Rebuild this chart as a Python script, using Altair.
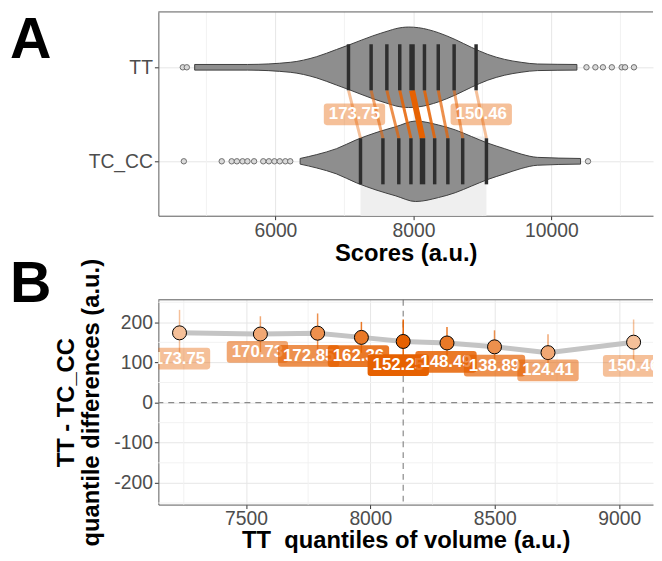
import altair as alt
import pandas as pd

# ---------------- values ----------------
groups = ["TT", "TC_CC"]
group_pos = [2, 1]
deciles = [1, 2, 3, 4, 5, 6, 7, 8, 9]
tt_deciles = [7059, 7387, 7615, 7802, 7980, 8160, 8360, 8590, 8908]
tc_deciles = [7233, 7558, 7788, 7964, 8132, 8308, 8499, 8714, 9058]
differences = [173.75, 170.73, 172.85, 162.36, 152.25, 148.49, 138.89, 124.41, 150.46]
ci_lower = [116, 126, 124, 124, 97, 109, 98, 78, 94]
ci_upper = [231, 215, 222, 201, 207, 188, 180, 170, 207]

# half-widths of the two bee-swarm clouds (in y-axis units)
tt_density_x = [4830, 5594, 6215, 6598, 6885, 7071, 7411, 7644, 7745, 7931, 8075,
                8362, 8606, 8844, 9078, 9322, 9561, 9795, 10369]
tt_density_w = [0.030, 0.030, 0.053, 0.113, 0.189, 0.239, 0.334, 0.389, 0.411, 0.428,
                0.421, 0.368, 0.295, 0.211, 0.137, 0.084, 0.053, 0.035, 0.030]
tc_density_x = [6358, 6598, 6885, 7171, 7458, 7745, 8032, 8362, 8606, 8844, 9078,
                9322, 9561, 9795, 10422]
tc_density_w = [0.030, 0.071, 0.134, 0.228, 0.305, 0.368, 0.428, 0.386, 0.334, 0.263,
                0.193, 0.134, 0.077, 0.042, 0.030]
tt_outliers = [4658, 4716, 10508, 10637, 10746, 10875, 11018, 11067, 11196]
tc_outliers = [4673, 5222, 5366, 5442, 5524, 5595, 5691, 5824, 5906, 5986, 6063,
               6144, 6215, 10530]

# pixel nudges of the repelled labels in panel B
label_dx = [0, -3, -9, -3, -5, -1, 0, 0, 0]
label_dy = [26, 18, 23, 19, 24, 19, 19, 18, 24]

# ---------------- styles ----------------
FONT = "Liberation Sans"
ORANGE = "#e66101"
GRID = "#E6E6E6"
MINOR = "#F2F2F2"
BORDER = "#5A5A5A"
W, HA, HB = 500, 206, 207
# rounded label box, 62 x 22 px (path scaled by sqrt(size)/2 = 31)
BOX = ("M-0.9,-0.355L0.9,-0.355Q1,-0.355,1,-0.255L1,0.255Q1,0.355,0.9,0.355"
       "L-0.9,0.355Q-1,0.355,-1,0.255L-1,-0.255Q-1,-0.355,-0.9,-0.355Z")
BOX_SIZE = 62 * 62
LAB_FS = 17

alpha = [round(1 - 0.15 * abs(d - 5), 2) for d in deciles]
link_w = [6 if d == 5 else 3 for d in deciles]
bar_w = [5.5 if d == 5 else 3.5 for d in deciles]

dec = pd.DataFrame({
    "decile": deciles, "tt": tt_deciles, "tc": tc_deciles, "diff": differences,
    "lo": ci_lower, "hi": ci_upper, "alpha": alpha, "lw": link_w,
    "label": [f"{v:.2f}" for v in differences], "dx": label_dx, "dy": label_dy,
})

# ---------------- scales & axes ----------------
domAx, domAy = [4304, 11472], [0.421, 2.589]
domBx, domBy = [7148, 9136], [-254, 256]
sxA = alt.Scale(domain=domAx, nice=False, zero=False)
syA = alt.Scale(domain=domAy, nice=False, zero=False)
sxB = alt.Scale(domain=domBx, nice=False, zero=False)
syB = alt.Scale(domain=domBy, nice=False, zero=False)

axAx = alt.Axis(values=[6000, 8000, 10000], format="d", title="Scores (a.u.)",
                grid=True, titlePadding=2)
axAy = alt.Axis(values=[1, 2], labelExpr="datum.value == 2 ? 'TT' : 'TC_CC'",
                title=None, grid=True)
axBx = alt.Axis(values=[7500, 8000, 8500, 9000], format="d",
                title="TT\u00a0 quantiles of volume (a.u.)", grid=True,
                titlePadding=1, labelPadding=1)
axBy = alt.Axis(values=[-200, -100, 0, 100, 200], labelExpr="'' + datum.value",
                title=["TT - TC_CC", "quantile differences (a.u.)"], grid=True,
                titlePadding=10)


def xa(f):
    return alt.X(field=f, type="quantitative", scale=sxA, axis=axAx)


def ya(f):
    return alt.Y(field=f, type="quantitative", scale=syA, axis=axAy)


def xb(f):
    return alt.X(field=f, type="quantitative", scale=sxB, axis=axBx)


def yb(f):
    return alt.Y(field=f, type="quantitative", scale=syB, axis=axBy)


# ---------------- panel A ----------------
a_xgrid = alt.Chart(pd.DataFrame({"v": [5000, 7000, 9000, 11000]})).mark_rule(
    color=MINOR, strokeWidth=1).encode(x=xa("v"))
a_ygrid = alt.Chart(pd.DataFrame({"pos": group_pos})).mark_point(opacity=0).encode(
    y=ya("pos"))

a_band = alt.Chart(pd.DataFrame({"lo": [tc_deciles[0]], "hi": [tc_deciles[-1]]})).transform_calculate(
    ylo=str(domAy[0]), yhi="1.263").mark_rect(color="#EFEFEF").encode(
    x=xa("lo"), x2="hi", y=ya("ylo"), y2="yhi:Q")

vio = pd.DataFrame({
    "group": ["TT"] * len(tt_density_x) + ["TC_CC"] * len(tc_density_x),
    "x": tt_density_x + tc_density_x,
    "w": tt_density_w + tc_density_w,
    "pos": [2] * len(tt_density_x) + [1] * len(tc_density_x),
})
a_vio = alt.Chart(vio).transform_calculate(
    top="datum.pos + datum.w", bot="datum.pos - datum.w").mark_area(
    fill="#8E8E8E", stroke="#3F3F3F", strokeWidth=1, interpolate="monotone", opacity=1).encode(
    x=xa("x"), y=ya("top"), y2="bot:Q", detail="group:N")

out = pd.DataFrame({"x": tt_outliers + tc_outliers,
                    "pos": [2] * len(tt_outliers) + [1] * len(tc_outliers)})
a_out = alt.Chart(out).mark_point(shape="circle", filled=True, size=30, fill="#DADADA",
                                  stroke="#6E6E6E", strokeWidth=1, opacity=1).encode(
    x=xa("x"), y=ya("pos"))

a_links = alt.Chart(dec).transform_calculate(ytop="2 - 0.245", ybot="1 + 0.245").mark_rule(
    color=ORANGE).encode(
    x=xa("tt"), x2="tc", y=ya("ytop"), y2="ybot:Q",
    strokeWidth=alt.StrokeWidth("lw:Q", scale=None),
    opacity=alt.Opacity("alpha:Q", scale=None))

bars = pd.DataFrame({"x": tt_deciles + tc_deciles, "pos": [2] * 9 + [1] * 9,
                     "bw": bar_w + bar_w})
a_bars = alt.Chart(bars).transform_calculate(
    top="datum.pos + 0.245", bot="datum.pos - 0.245").mark_rule(color="#2E2E2E").encode(
    x=xa("x"), y=ya("top"), y2="bot:Q", strokeWidth=alt.StrokeWidth("bw:Q", scale=None))

a_lab = alt.Chart(dec).transform_filter("datum.decile == 1 || datum.decile == 9").transform_calculate(
    mid="(datum.tt + datum.tc) / 2", ym="1.5")
a_box = a_lab.mark_point(shape=BOX, size=BOX_SIZE, filled=True, color=ORANGE, opacity=1,
                         strokeWidth=0).encode(
    x=xa("mid"), y=ya("ym"), fillOpacity=alt.FillOpacity("alpha:Q", scale=None))
a_txt = a_lab.mark_text(color="white", fontWeight="bold", fontSize=LAB_FS, font=FONT).encode(
    x=xa("mid"), y=ya("ym"), text="label:N")

a_top = alt.Chart(pd.DataFrame({"k": [0]})).mark_rule(color=BORDER, strokeWidth=1).encode(
    x=alt.value(0), x2=alt.value(W), y=alt.value(0))
a_letter = alt.Chart(pd.DataFrame({"t": ["A"]})).mark_text(
    align="left", baseline="alphabetic", fontSize=58, fontWeight="bold", font=FONT,
    color="black").encode(x=alt.value(-150), y=alt.value(47), text="t:N")

panelA = alt.layer(a_xgrid, a_ygrid, a_band, a_vio, a_out, a_links, a_bars, a_box, a_txt,
                   a_top, a_letter).properties(width=W, height=HA)

# ---------------- panel B ----------------
ux = (domBx[1] - domBx[0]) / W    # data units per pixel
uy = (domBy[1] - domBy[0]) / HB

b_xgrid = alt.Chart(pd.DataFrame({"v": [7250, 7750, 8250, 8750]})).mark_rule(
    color=MINOR, strokeWidth=1).encode(x=xb("v"))
b_ygrid = alt.Chart(pd.DataFrame({"v": [-250, -150, -50, 50, 150, 250]})).mark_rule(
    color=MINOR, strokeWidth=1).encode(y=yb("v"))

b_h0 = alt.Chart(pd.DataFrame({"v": [0]})).mark_rule(
    color="#8A8A8A", strokeWidth=1.2, strokeDash=[6, 5]).encode(y=yb("v"))
b_vmed = alt.Chart(dec).transform_filter("datum.decile == 5").mark_rule(
    color="#8A8A8A", strokeWidth=1.2, strokeDash=[6, 5]).encode(x=xb("tc"))

b_line = alt.Chart(dec).mark_line(color="#C4C4C4", strokeWidth=5).encode(
    x=xb("tc"), y=yb("diff"))
b_ci = alt.Chart(dec).mark_rule(color=ORANGE, strokeWidth=1.5).encode(
    x=xb("tc"), y=yb("lo"), y2="hi:Q", opacity=alt.Opacity("alpha:Q", scale=None))
b_under = alt.Chart(dec).mark_point(shape="circle", filled=True, size=200, color="white",
                                    opacity=1).encode(x=xb("tc"), y=yb("diff"))
b_pts = alt.Chart(dec).mark_point(shape="circle", filled=True, size=200, color=ORANGE,
                                  stroke="black", strokeWidth=1, opacity=1).encode(
    x=xb("tc"), y=yb("diff"), fillOpacity=alt.FillOpacity("alpha:Q", scale=None))

b_labels = []
for d in deciles:
    base = alt.Chart(dec).transform_filter(f"datum.decile == {d}").transform_calculate(
        lx=f"datum.tc + datum.dx * {ux}", ly=f"datum.diff - datum.dy * {uy}")
    b_labels.append(base.mark_point(shape=BOX, size=BOX_SIZE, filled=True, color=ORANGE,
                                    opacity=1, strokeWidth=0, clip=True).encode(
        x=xb("lx"), y=yb("ly"), fillOpacity=alt.FillOpacity("alpha:Q", scale=None)))
    b_labels.append(base.mark_text(color="white", fontWeight="bold", fontSize=LAB_FS, font=FONT,
                                   clip=True).encode(
        x=xb("lx"), y=yb("ly"), text="label:N"))

b_top = alt.Chart(pd.DataFrame({"k": [0]})).mark_rule(color=BORDER, strokeWidth=1).encode(
    x=alt.value(0), x2=alt.value(W), y=alt.value(0))
b_letter = alt.Chart(pd.DataFrame({"t": ["B"]})).mark_text(
    align="left", baseline="alphabetic", fontSize=58, fontWeight="bold", font=FONT,
    color="black").encode(x=alt.value(-150), y=alt.value(2), text="t:N")

panelB = alt.layer(b_xgrid, b_ygrid, b_h0, b_vmed, b_line, b_ci, b_under, b_pts,
                   *b_labels, b_top, b_letter).properties(width=W, height=HB)

chart = alt.vconcat(panelA, panelB, spacing=85, bounds="flush").properties(
    padding={"left": 2, "top": 0, "right": 0, "bottom": 0}
).configure(font=FONT).configure_view(stroke=None).configure_axis(
    labelFont=FONT, labelFontSize=19.5, labelColor="#4D4D4D",
    tickColor="#333333", tickSize=4, labelPadding=2,
    domainColor=BORDER, domainWidth=1, gridColor=GRID, gridWidth=1,
    titleFont=FONT, titleFontSize=24, titleFontWeight="bold", titleColor="black",
)

chart.save("out.html", embed_options={"renderer": "svg", "actions": False})
